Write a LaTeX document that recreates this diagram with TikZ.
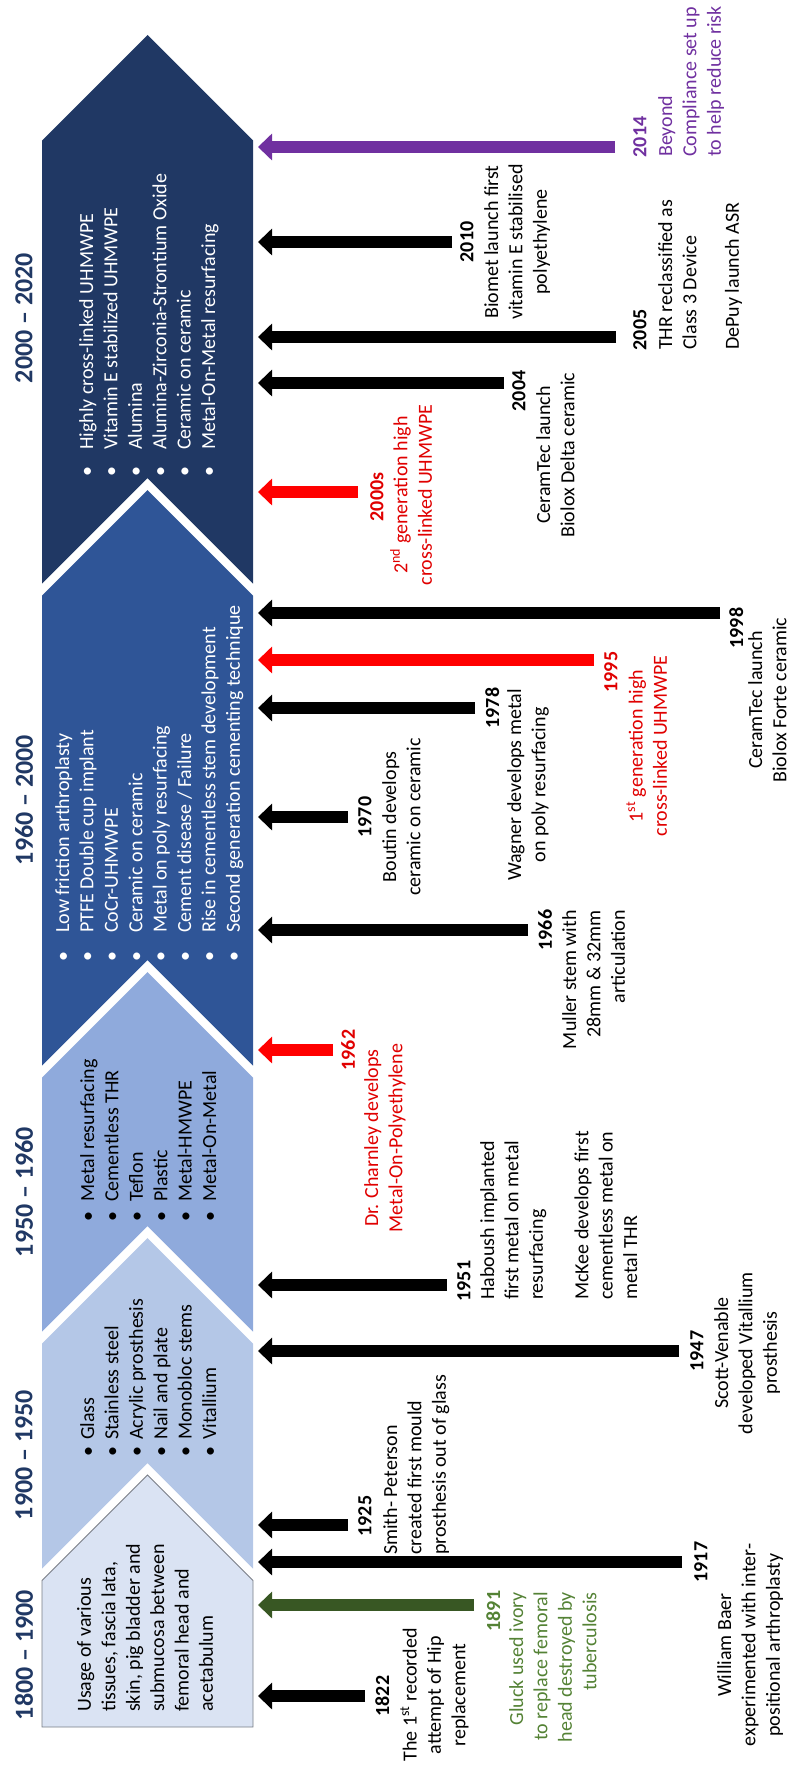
\documentclass[tikz,border=0pt]{standalone}
\usepackage{fontspec}
\setmainfont{Carlito}
\usetikzlibrary{arrows.meta}
\definecolor{segA}{HTML}{DAE3F3}
\definecolor{segB}{HTML}{B4C7E7}
\definecolor{segC}{HTML}{8FAADC}
\definecolor{segD}{HTML}{2F5597}
\definecolor{segE}{HTML}{203864}
\definecolor{navy}{HTML}{203864}
\definecolor{purp}{HTML}{7030A0}
\definecolor{redarr}{HTML}{FF0000}
\definecolor{redtxt}{HTML}{E00000}
\definecolor{greenarr}{HTML}{385723}
\definecolor{greentxt}{HTML}{548235}
\newcommand{\blt}[1]{\makebox[#1][l]{\textbullet}}
\tikzset{
  hd/.style={font=\fontsize{26}{32}\selectfont\bfseries, text=navy},
  lst/.style={font=\fontsize{20}{24.4}\selectfont, align=left, anchor=north west},
  yr/.style={font=\fontsize{20}{24.4}\selectfont\bfseries, anchor=north},
  ds/.style={font=\fontsize{20}{24.4}\selectfont, align=center, anchor=north},
  arr/.style={line width=12pt, -{Triangle[length=14pt,width=26pt]}},
}

\begin{document}
\begin{tikzpicture}[x=1pt, y=-1pt, every node/.style={rotate=90, inner sep=0pt}]
    \useasboundingbox (0,0) rectangle (797,1769);
    % Chevron band
    \fill[segA, draw=segA!55!black, line width=0.8pt] (42,1727) -- (42,1580.5) -- (147.5,1475) -- (253,1580.5) -- (253,1727) -- cycle;
    \foreach \n/\a/\c in {1463/1238/segB, 1226/972/segC, 960/490/segD, 478/35/segE}
        \fill[\c] (42,\n+105.5) -- (42,\a+105.5) -- (147.5,\a) -- (253,\a+105.5) -- (253,\n+105.5) -- (147.5,\n) -- cycle;
    \coordinate (edge) at (258,0);
    % Period headings
    \foreach \t/\y/\m in {1800 -- 1900/1655/h1, 1900 -- 1950/1455/h2, 1950 -- 1960/1192/h3, 1960 -- 2000/800/h4, 2000 -- 2020/318/h5}
        \node[hd] (\m) at (24,\y) {\t};
    % Materials per period
    \node[lst] (l1) at (77,1712) {Usage of various\\tissues, fascia lata,\\skin, pig bladder and\\submucosa between\\femoral head and\\acetabulum};
    \node[lst] (l2) at (80,1457) {\blt{17pt}Glass\\\blt{17pt}Stainless steel\\\blt{17pt}Acrylic prosthesis\\\blt{17pt}Nail and plate\\\blt{17pt}Monobloc stems\\\blt{17pt}Vitallium};
    \node[lst] (l3) at (80,1222) {\blt{20pt}Metal resurfacing\\\blt{20pt}Cementless THR\\\blt{20pt}Teflon\\\blt{20pt}Plastic\\\blt{20pt}Metal-HMWPE\\\blt{20pt}Metal-On-Metal};
    \node[lst, text=white] (l4) at (55,962) {\blt{29pt}Low friction arthroplasty\\\blt{29pt}PTFE Double cup implant\\\blt{29pt}CoCr-UHMWPE\\\blt{29pt}Ceramic on ceramic\\\blt{29pt}Metal on poly resurfacing\\\blt{29pt}Cement disease / Failure\\\blt{29pt}Rise in cementless stem development\\\blt{29pt}Second generation cementing technique};
    \node[lst, text=white] (l5) at (79,477) {\blt{27pt}Highly cross-linked UHMWPE\\\blt{27pt}Vitamin E stabilized UHMWPE\\\blt{27pt}Alumina\\\blt{27pt}Alumina-Zirconia-Strontium Oxide\\\blt{27pt}Ceramic on ceramic\\\blt{27pt}Metal-On-Metal resurfacing};
    % Events
    \node[yr, text=purp] (y2014) at (633,137) {2014};
    \node[ds, align=left, anchor=north west, text=purp] (d2014) at (658,157) {Beyond\\Compliance set up\\to help reduce risk};
    \node[yr] (y2010) at (460,242) {2010};
    \node[ds] (d2010) at (484,242) {Biomet launch first\\vitamin E stabilised\\polyethylene};
    \node[yr] (y2005) at (633,330) {2005};
    \node[ds, align=left, anchor=north west] (d2005) at (658,350) {THR reclassified as\\Class 3 Device\\[18pt]DePuy launch ASR};
    \node[yr] (y2004) at (512,391) {2004};
    \node[ds] (d2004) at (536,455) {CeramTec launch\\Biolox Delta ceramic};
    \node[yr, text=redtxt] (y2000) at (370,497) {2000s};
    \node[ds, text=redtxt] (d2000) at (390,495) {2\textsuperscript{nd} generation high\\cross-linked UHMWPE};
    \node[yr] (y1998) at (729,628) {1998};
    \node[ds] (d1998) at (748,700) {CeramTec launch\\Biolox Forte ceramic};
    \node[yr, text=redtxt] (y1995) at (604,672) {1995};
    \node[ds, text=redtxt] (d1995) at (626,746) {1\textsuperscript{st} generation high\\cross-linked UHMWPE};
    \node[yr] (y1978) at (485,708) {1978};
    \node[ds] (d1978) at (507,785) {Wagner develops metal\\on poly resurfacing};
    \node[yr] (y1970) at (358,817) {1970};
    \node[ds] (d1970) at (382,817) {Boutin develops\\ceramic on ceramic};
    \node[yr] (y1966) at (538,930) {1966};
    \node[ds, align=right, anchor=north east] (d1966) at (562,910) {Muller stem with\\28mm \& 32mm\\articulation};
    \node[yr, text=redtxt] (y1962) at (341,1050) {1962};
    \node[ds, text=redtxt] (d1962) at (364,1138) {Dr. Charnley develops\\Metal-On-Polyethylene};
    \node[yr] (y1951) at (457,1281) {1951};
    \node[ds, align=left, anchor=north west] (d1951) at (480,1300) {Haboush implanted\\first metal on metal\\resurfacing\\[21pt]McKee develops first\\cementless metal on\\metal THR};
    \node[yr] (y1947) at (690,1351) {1947};
    \node[ds] (d1947) at (714,1353) {Scott-Venable\\developed Vitallium\\prosthesis};
    \node[yr] (y1925) at (358,1516) {1925};
    \node[ds, align=left, anchor=north west] (d1925) at (383,1555) {Smith- Peterson\\created first mould\\prosthesis out of glass};
    \node[yr] (y1917) at (694,1562) {1917};
    \node[ds] (d1917) at (717,1645) {William Baer\\experimented with inter-\\positional arthroplasty};
    \node[yr, text=greentxt] (y1891) at (486,1611) {1891};
    \node[ds, align=right, anchor=north east, text=greentxt] (d1891) at (509,1592) {Gluck used ivory\\to replace femoral\\head destroyed by\\tuberculosis};
    \node[yr] (y1822) at (375,1696) {1822};
    \node[ds] (d1822) at (400,1695) {The 1\textsuperscript{st} recorded\\attempt of Hip\\replacement};
    % Arrows from events to the band
    \foreach \n/\c/\d/\g in {y2014/purp/-10/18, y2010/black/0/8, y2005/black/-7/17, y2004/black/8/8, y2000/redarr/5/12, y1998/black/15/9, y1995/redarr/12/10, y1978/black/0/10, y1970/black/0/10, y1966/black/0/10, y1962/redarr/0/8, y1951/black/-4/10, y1947/black/0/11, y1925/black/-9/10, y1917/black/0/12, y1891/greenarr/6/12, y1822/black/0/10}
        \draw[arr, \c, shorten <=\g pt] ([yshift=\d pt]\n.north) coordinate (s) -- (s -| edge);
\end{tikzpicture}
\end{document}
